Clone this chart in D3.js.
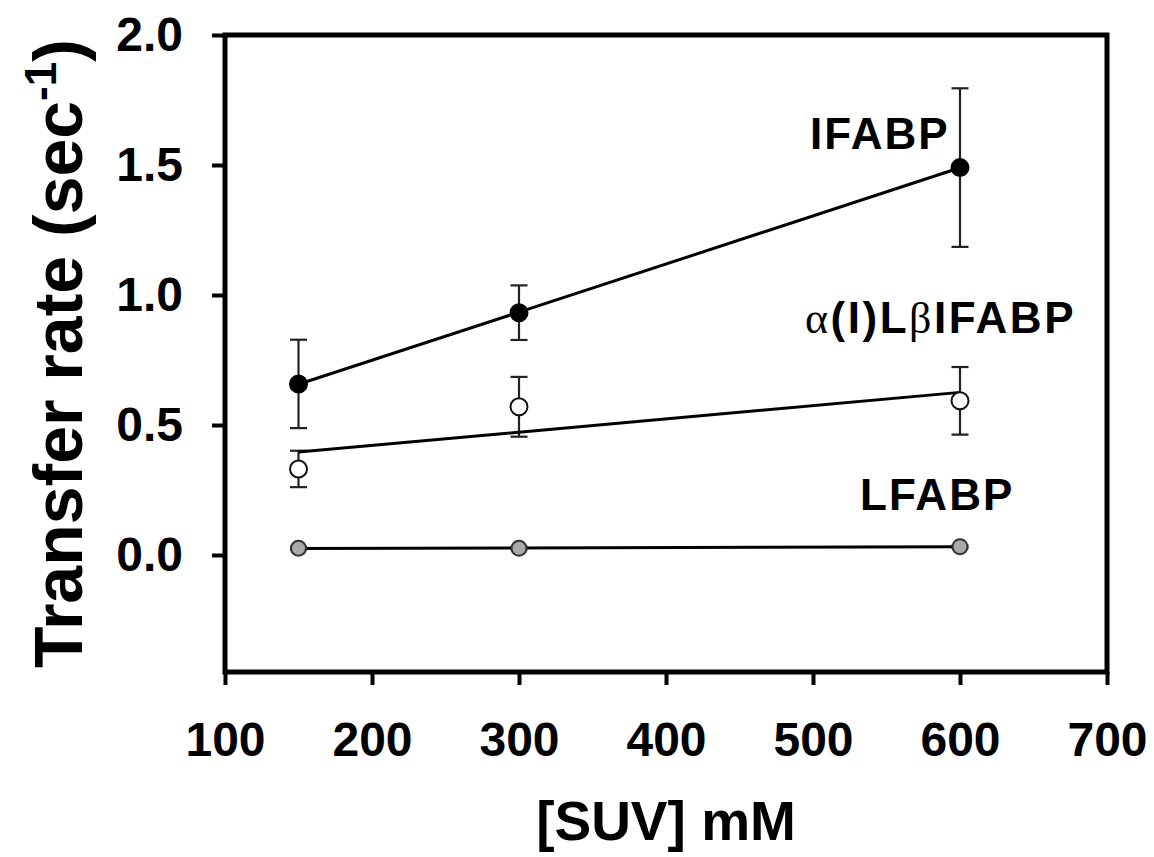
<!DOCTYPE html>
<html>
<head>
<meta charset="utf-8">
<script src="https://cdn.jsdelivr.net/npm/d3@7"></script>
<style>
  body { margin: 0; background: #fff; }
  text { font-family: "Liberation Sans", Arial, sans-serif; }
</style>
</head>
<body>
<script>
// data
var suv = [150, 300, 600];
var ifabp = [0.658, 0.932, 1.49];
var ifabpErr = [0.17, 0.105, 0.305];
var chimera = [0.331, 0.570, 0.593];
var chimeraErr = [0.07, 0.115, 0.13];
var lfabp = [0.026, 0.026, 0.032];
var lfabpErr = [0.005, 0.005, 0.005];

var xTicks = [100, 200, 300, 400, 500, 600, 700];
var yTicks = [0, 0.5, 1, 1.5, 2];

var svgWidth = 1154;
var svgHeight = 857;

var margin = { top: 35, right: 47, bottom: 185, left: 225 };
var width = svgWidth - margin.left - margin.right;
var height = svgHeight - margin.top - margin.bottom;

var svg = d3.select("body")
  .append("svg")
  .attr("width", svgWidth)
  .attr("height", svgHeight);

var chartGroup = svg.append("g")
  .attr("transform", `translate(${margin.left}, ${margin.top})`);

var xScale = d3.scaleLinear().domain([100, 700]).range([0, width]);
var yScale = d3.scaleLinear().domain([-0.45, 2.0]).range([height, 0]);

var bottomAxis = d3.axisBottom(xScale)
  .tickValues(xTicks)
  .tickSize(13)
  .tickSizeOuter(0)
  .tickPadding(37)
  .tickFormat(d3.format("d"));

var leftAxis = d3.axisLeft(yScale)
  .tickValues(yTicks)
  .tickSize(13)
  .tickSizeOuter(0)
  .tickPadding(29)
  .tickFormat(d3.format(".1f"));

var xAxisG = chartGroup.append("g")
  .attr("transform", `translate(0, ${height})`)
  .call(bottomAxis);

var yAxisG = chartGroup.append("g")
  .call(leftAxis);

[xAxisG, yAxisG].forEach(function(g) {
  g.select(".domain").remove();
  g.selectAll(".tick line").attr("stroke", "#000").attr("stroke-width", 4);
  g.selectAll(".tick text")
    .attr("fill", "#000")
    .style("font-size", "48px")
    .style("font-weight", "bold");
});

// frame
chartGroup.append("rect")
  .attr("x", 0)
  .attr("y", 0)
  .attr("width", width)
  .attr("height", height)
  .attr("fill", "none")
  .attr("stroke", "#000")
  .attr("stroke-width", 5);

function fit(xs, ys) {
  var mx = d3.mean(xs);
  var my = d3.mean(ys);
  var sxy = d3.sum(xs, function(x, i) { return (x - mx) * (ys[i] - my); });
  var sxx = d3.sum(xs, function(x) { return (x - mx) * (x - mx); });
  var b = sxy / sxx;
  var a = my - b * mx;
  return xs.map(function(x) { return [x, a + b * x]; });
}

var series = [
  { vals: ifabp, err: ifabpErr, fill: "#000", stroke: "#000", r: 8.5 },
  { vals: chimera, err: chimeraErr, fill: "#fff", stroke: "#111", r: 8.5 },
  { vals: lfabp, err: lfabpErr, fill: "#aaa", stroke: "#333", r: 7.5 }
];

var line = d3.line()
  .x(function(d) { return xScale(d[0]); })
  .y(function(d) { return yScale(d[1]); });

series.forEach(function(s) {
  var pts = suv.map(function(x, i) { return { x: x, y: s.vals[i], e: s.err[i] }; });

  var eb = chartGroup.append("g")
    .attr("stroke", "#222")
    .attr("stroke-width", 2.2);

  eb.selectAll(".bar")
    .data(pts)
    .enter()
    .append("line")
    .attr("x1", d => xScale(d.x))
    .attr("x2", d => xScale(d.x))
    .attr("y1", d => yScale(d.y - d.e))
    .attr("y2", d => yScale(d.y + d.e));

  eb.selectAll(".capTop")
    .data(pts)
    .enter()
    .append("line")
    .attr("x1", d => xScale(d.x) - 8.5)
    .attr("x2", d => xScale(d.x) + 8.5)
    .attr("y1", d => yScale(d.y + d.e))
    .attr("y2", d => yScale(d.y + d.e));

  eb.selectAll(".capBot")
    .data(pts)
    .enter()
    .append("line")
    .attr("x1", d => xScale(d.x) - 8.5)
    .attr("x2", d => xScale(d.x) + 8.5)
    .attr("y1", d => yScale(d.y - d.e))
    .attr("y2", d => yScale(d.y - d.e));

  chartGroup.append("path")
    .datum(fit(suv, s.vals))
    .attr("d", line)
    .attr("fill", "none")
    .attr("stroke", "#000")
    .attr("stroke-width", 3);

  chartGroup.selectAll(null)
    .data(pts)
    .enter()
    .append("circle")
    .attr("cx", d => xScale(d.x))
    .attr("cy", d => yScale(d.y))
    .attr("r", s.r)
    .attr("fill", s.fill)
    .attr("stroke", s.stroke)
    .attr("stroke-width", 2);
});

// series labels
var labelX = [498, 494.6, 532];
var labelY = [1.56, 0.854, 0.173];

chartGroup.append("text")
  .attr("x", xScale(labelX[0]))
  .attr("y", yScale(labelY[0]))
  .style("font-size", "44px")
  .style("font-weight", "bold")
  .style("letter-spacing", "2px")
  .text("IFABP");

var chimLabel = chartGroup.append("text")
  .attr("x", xScale(labelX[1]))
  .attr("y", yScale(labelY[1]))
  .style("font-size", "44px")
  .style("font-weight", "bold")
  .style("letter-spacing", "2.5px");
chimLabel.append("tspan").style("font-family", "Liberation Serif").style("font-weight", "normal").text("α");
chimLabel.append("tspan").text("(I)L");
chimLabel.append("tspan").style("font-family", "Liberation Serif").style("font-weight", "normal").text("β");
chimLabel.append("tspan").text("IFABP");

chartGroup.append("text")
  .attr("x", xScale(labelX[2]))
  .attr("y", yScale(labelY[2]))
  .style("font-size", "44px")
  .style("font-weight", "bold")
  .style("letter-spacing", "2px")
  .text("LFABP");

// axis titles
chartGroup.append("text")
  .attr("x", width / 2)
  .attr("y", 805)
  .attr("text-anchor", "middle")
  .style("font-size", "55px")
  .style("font-weight", "bold")
  .text("[SUV] mM");

var yTitle = svg.append("text")
  .attr("transform", `translate(82, ${margin.top + height / 2}) rotate(-90)`)
  .attr("text-anchor", "middle")
  .style("font-size", "68px")
  .style("font-weight", "bold");
yTitle.append("tspan").text("Transfer rate (sec");
yTitle.append("tspan").attr("dy", -26).style("font-size", "44px").text("-1");
yTitle.append("tspan").attr("dy", 26).text(")");
</script>
</body>
</html>
